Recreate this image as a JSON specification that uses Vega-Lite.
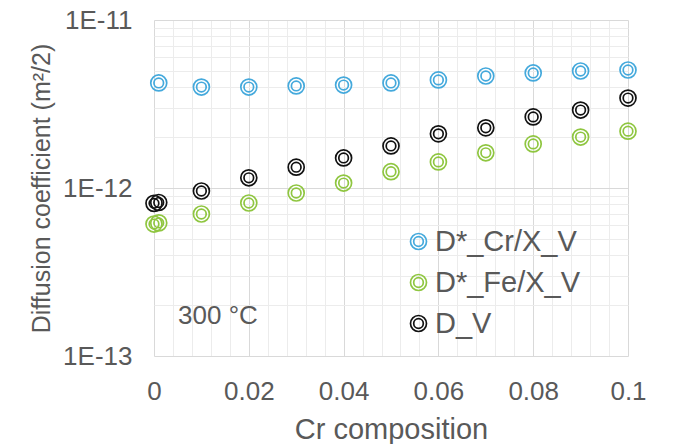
{
  "$schema": "https://vega.github.io/schema/vega-lite/v6.json",
  "autosize": "none",
  "width": 474,
  "height": 336,
  "padding": {"left": 154, "top": 20, "right": 46, "bottom": 88},
  "background": "white",
  "config": {
    "font": "Liberation Sans",
    "view": {"stroke": null},
    "axis": {"labelFont": "Liberation Sans", "titleFont": "Liberation Sans", "labelColor": "#595959", "titleColor": "#595959", "titleFontWeight": "normal"}
  },
  "data": {
    "values": [
      {"x": 0.001, "D": 4.22e-12, "series": "D*_Cr/X_V"},
      {"x": 0.01, "D": 3.99e-12, "series": "D*_Cr/X_V"},
      {"x": 0.02, "D": 3.99e-12, "series": "D*_Cr/X_V"},
      {"x": 0.03, "D": 4.05e-12, "series": "D*_Cr/X_V"},
      {"x": 0.04, "D": 4.1e-12, "series": "D*_Cr/X_V"},
      {"x": 0.05, "D": 4.22e-12, "series": "D*_Cr/X_V"},
      {"x": 0.06, "D": 4.4e-12, "series": "D*_Cr/X_V"},
      {"x": 0.07, "D": 4.64e-12, "series": "D*_Cr/X_V"},
      {"x": 0.08, "D": 4.84e-12, "series": "D*_Cr/X_V"},
      {"x": 0.09, "D": 4.97e-12, "series": "D*_Cr/X_V"},
      {"x": 0.1, "D": 5.04e-12, "series": "D*_Cr/X_V"},
      {"x": 0.0, "D": 6.1e-13, "series": "D*_Fe/X_V"},
      {"x": 0.001, "D": 6.2e-13, "series": "D*_Fe/X_V"},
      {"x": 0.01, "D": 7.0e-13, "series": "D*_Fe/X_V"},
      {"x": 0.02, "D": 8.14e-13, "series": "D*_Fe/X_V"},
      {"x": 0.03, "D": 9.34e-13, "series": "D*_Fe/X_V"},
      {"x": 0.04, "D": 1.07e-12, "series": "D*_Fe/X_V"},
      {"x": 0.05, "D": 1.25e-12, "series": "D*_Fe/X_V"},
      {"x": 0.06, "D": 1.43e-12, "series": "D*_Fe/X_V"},
      {"x": 0.07, "D": 1.62e-12, "series": "D*_Fe/X_V"},
      {"x": 0.08, "D": 1.83e-12, "series": "D*_Fe/X_V"},
      {"x": 0.09, "D": 2.01e-12, "series": "D*_Fe/X_V"},
      {"x": 0.1, "D": 2.18e-12, "series": "D*_Fe/X_V"},
      {"x": 0.0, "D": 8.1e-13, "series": "D_V"},
      {"x": 0.001, "D": 8.2e-13, "series": "D_V"},
      {"x": 0.01, "D": 9.6e-13, "series": "D_V"},
      {"x": 0.02, "D": 1.15e-12, "series": "D_V"},
      {"x": 0.03, "D": 1.33e-12, "series": "D_V"},
      {"x": 0.04, "D": 1.51e-12, "series": "D_V"},
      {"x": 0.05, "D": 1.78e-12, "series": "D_V"},
      {"x": 0.06, "D": 2.1e-12, "series": "D_V"},
      {"x": 0.07, "D": 2.28e-12, "series": "D_V"},
      {"x": 0.08, "D": 2.65e-12, "series": "D_V"},
      {"x": 0.09, "D": 2.91e-12, "series": "D_V"},
      {"x": 0.1, "D": 3.43e-12, "series": "D_V"}
    ]
  },
  "layer": [
    {
      "mark": {"type": "point", "opacity": 0},
      "encoding": {
        "x": {"field": "x", "type": "quantitative", "scale": {"domain": [0, 0.1], "nice": false, "zero": false},
          "axis": {"orient": "bottom", "values": [0.004, 0.008, 0.012, 0.016, 0.024, 0.028, 0.032, 0.036, 0.044, 0.048, 0.052, 0.056, 0.064, 0.068, 0.072, 0.076, 0.084, 0.088, 0.092, 0.096], "grid": true, "gridColor": "#ececec", "gridWidth": 1, "labels": false, "ticks": false, "domain": false, "title": null}},
        "y": {"field": "D", "type": "quantitative", "scale": {"type": "log", "domain": [1e-13, 1e-11], "nice": false},
          "axis": {"orient": "left", "values": [2e-13, 3e-13, 4e-13, 5e-13, 6e-13, 7e-13, 8e-13, 9e-13, 2e-12, 3e-12, 4e-12, 5e-12, 6e-12, 7e-12, 8e-12, 9e-12], "grid": true, "gridColor": "#ececec", "gridWidth": 1, "labels": false, "ticks": false, "domain": false, "title": null}}
      }
    },
    {
      "mark": {"type": "point", "filled": false, "strokeWidth": 1.7, "opacity": 1, "size": 256,
        "shape": "M -1 0 A 1 1 0 1 0 1 0 A 1 1 0 1 0 -1 0 Z M -0.6 0 A 0.6 0.6 0 1 0 0.6 0 A 0.6 0.6 0 1 0 -0.6 0 Z"},
      "encoding": {
        "x": {"field": "x", "type": "quantitative",
          "axis": {"orient": "bottom", "values": [0, 0.02, 0.04, 0.06, 0.08, 0.1], "format": "~g", "labelFlush": false, "grid": true, "gridColor": "#d9d9d9", "gridWidth": 1, "ticks": false, "domain": false, "labelFontSize": 26, "labelPadding": 22, "title": "Cr composition", "titleFontSize": 29, "titlePadding": 11}},
        "y": {"field": "D", "type": "quantitative",
          "axis": {"orient": "left", "values": [1e-13, 1e-12, 1e-11], "labelExpr": "datum.value < 5e-13 ? '1E-13' : (datum.value < 5e-12 ? '1E-12' : '1E-11')", "grid": true, "gridColor": "#d9d9d9", "gridWidth": 1, "ticks": false, "domain": false, "labelFontSize": 26, "labelPadding": 22, "title": "Diffusion coefficient (m²/2)", "titleFontSize": 25, "titlePadding": 8}},
        "stroke": {"field": "series", "type": "nominal",
          "scale": {"domain": ["D*_Cr/X_V", "D*_Fe/X_V", "D_V"], "range": ["#44a9dc", "#8fc640", "#111111"]},
          "legend": {"orient": "none", "legendX": 250, "legendY": 207, "title": null, "labelFontSize": 29, "labelColor": "#595959", "labelFont": "Liberation Sans", "rowPadding": 11, "symbolSize": 256, "symbolStrokeWidth": 1.7, "symbolType": "M -1 0 A 1 1 0 1 0 1 0 A 1 1 0 1 0 -1 0 Z M -0.6 0 A 0.6 0.6 0 1 0 0.6 0 A 0.6 0.6 0 1 0 -0.6 0 Z", "labelOffset": 2}}
      }
    },
    {
      "data": {"values": [{}]},
      "mark": {"type": "text", "text": "300 °C", "fontSize": 26, "color": "#595959", "font": "Liberation Sans"},
      "encoding": {
        "x": {"datum": 0.0135, "type": "quantitative", "axis": null},
        "y": {"datum": 1.73e-13, "type": "quantitative", "axis": null}
      }
    }
  ],
  "resolve": {"axis": {"x": "independent", "y": "independent"}}
}
